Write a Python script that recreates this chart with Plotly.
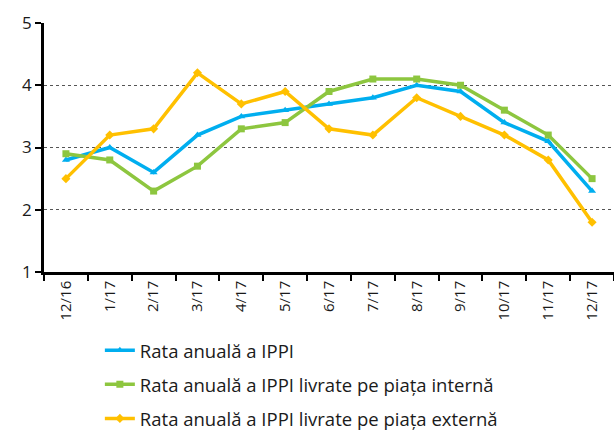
import plotly.graph_objects as go

months = ["12/16", "1/17", "2/17", "3/17", "4/17", "5/17", "6/17",
          "7/17", "8/17", "9/17", "10/17", "11/17", "12/17"]
ippi_total = [2.8, 3.0, 2.6, 3.2, 3.5, 3.6, 3.7, 3.8, 4.0, 3.9, 3.4, 3.1, 2.3]
ippi_intern = [2.9, 2.8, 2.3, 2.7, 3.3, 3.4, 3.9, 4.1, 4.1, 4.0, 3.6, 3.2, 2.5]
ippi_extern = [2.5, 3.2, 3.3, 4.2, 3.7, 3.9, 3.3, 3.2, 3.8, 3.5, 3.2, 2.8, 1.8]

series = [
    ("Rata anuală a IPPI", ippi_total, "#00AEEF", "triangle-up"),
    ("Rata anuală a IPPI livrate pe piața internă", ippi_intern, "#8DC63F", "square"),
    ("Rata anuală a IPPI livrate pe piața externă", ippi_extern, "#FFC000", "diamond"),
]

fig = go.Figure()
for i, (name, vals, color, sym) in enumerate(series):
    fig.add_trace(go.Scatter(
        x=months, y=vals, name=name, mode="lines+markers",
        legendgroup=f"g{i}",
        line=dict(color=color, width=3.5),
        marker=dict(symbol=sym, size=7, color=color),
    ))

fig.update_layout(
    width=614, height=432,
    margin=dict(l=44, r=0, t=23, b=160, autoexpand=False),
    paper_bgcolor="white", plot_bgcolor="white",
    font=dict(family="Open Sans, sans-serif", color="#1a1a1a", size=16),
    showlegend=True,
    legend=dict(
        orientation="v", x=0.098, y=-0.24, xanchor="left", yanchor="top",
        font=dict(size=18.5), itemwidth=30, tracegroupgap=7,
        bgcolor="rgba(0,0,0,0)",
    ),
    xaxis=dict(
        type="category", tickangle=-90, tickson="boundaries",
        ticks="outside", ticklen=6, tickcolor="black", tickwidth=2,
        showline=True, linecolor="black", linewidth=2.5,
        showgrid=False, tickfont=dict(size=15), automargin=False,
        range=[-0.5, 12.5],
    ),
    yaxis=dict(
        range=[1, 5], dtick=1, ticks="outside", ticklen=6,
        tickcolor="black", tickwidth=2,
        showline=True, linecolor="black", linewidth=2.5,
        showgrid=True, gridcolor="#555555", griddash="dot", gridwidth=1,
        tickfont=dict(size=17), zeroline=False, automargin=False,
    ),
)

fig.write_html("out.html")
